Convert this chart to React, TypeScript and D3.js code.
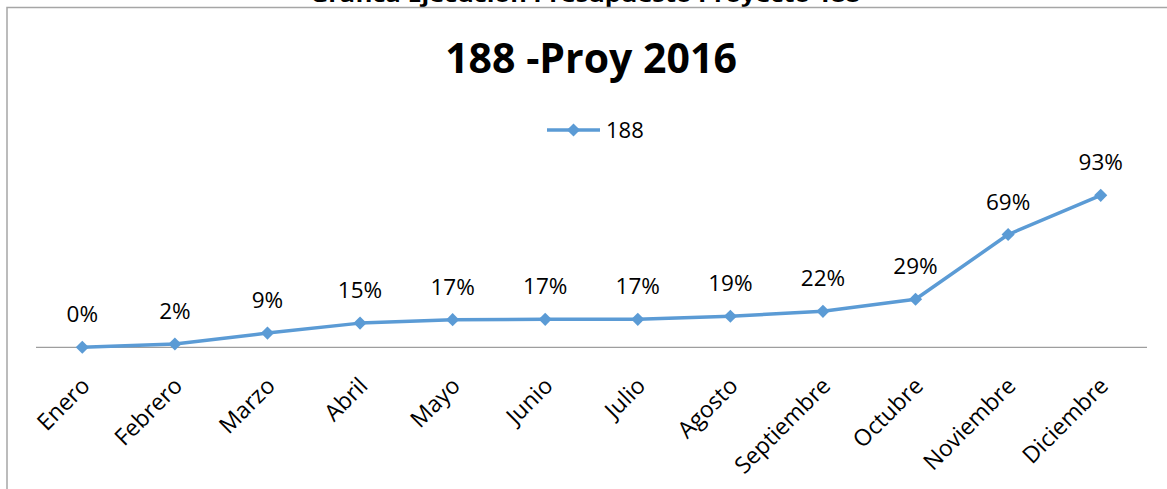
import React, { useEffect, useRef } from 'react';
import * as d3 from 'd3';

const months = [
  'Enero', 'Febrero', 'Marzo', 'Abril', 'Mayo', 'Junio',
  'Julio', 'Agosto', 'Septiembre', 'Octubre', 'Noviembre', 'Diciembre',
];
const executed = [0, 0.02, 0.087, 0.148, 0.169, 0.171, 0.171, 0.19, 0.22, 0.294, 0.69, 0.93];
const seriesName = '188';
const chartTitle = '188 -Proy 2016';
const sheetTitle = 'Gráfica Ejecución Presupuesto Proyecto 188';

const W = 1167;
const H = 489;
const BLUE = '#5B9BD5';
const FONT = '"Open Sans", "DejaVu Sans", sans-serif';

const App: React.FC = () => {
  const svgRef = useRef<SVGSVGElement>(null);

  useEffect(() => {
    if (!svgRef.current) return;
    const svg = d3.select(svgRef.current);
    svg.selectAll('*').remove();

    // sheet title above the frame, cut off by the top edge as in the source
    svg.append('text')
      .attr('x', 310)
      .attr('y', 1.5)
      .attr('textLength', 550)
      .attr('lengthAdjust', 'spacingAndGlyphs')
      .attr('font-family', FONT)
      .attr('font-weight', 700)
      .attr('font-size', 21)
      .attr('fill', '#000')
      .text(sheetTitle);

    // frame
    svg.append('rect')
      .attr('x', 7)
      .attr('y', 7.5)
      .attr('width', W + 20)
      .attr('height', H + 20)
      .attr('fill', '#fff')
      .attr('stroke', '#a6a6a6')
      .attr('stroke-width', 1.5);

    const x = d3.scaleBand<string>()
      .domain(months)
      .range([36, 1147]);
    const y = d3.scaleLinear()
      .domain([0, 1])
      .range([347.3, 183.9]);
    const cx = (m: string) => (x(m) || 0) + x.bandwidth() / 2;

    // title
    svg.append('text')
      .attr('x', 591)
      .attr('y', 73)
      .attr('text-anchor', 'middle')
      .attr('font-family', FONT)
      .attr('font-weight', 700)
      .attr('font-size', 41)
      .attr('fill', '#000')
      .text(chartTitle);

    // legend
    const lg = svg.append('g').attr('transform', 'translate(547,130)');
    lg.append('line')
      .attr('x1', 0).attr('x2', 53)
      .attr('stroke', BLUE).attr('stroke-width', 3.5);
    lg.append('path')
      .attr('d', d3.symbol().type(d3.symbolDiamond2).size(110)()!)
      .attr('transform', 'translate(26.5,0)')
      .attr('fill', BLUE);
    lg.append('text')
      .attr('x', 59)
      .attr('y', 8)
      .attr('font-family', FONT)
      .attr('font-size', 22)
      .attr('fill', '#000')
      .text(seriesName);

    // x axis line
    svg.append('line')
      .attr('x1', 36).attr('x2', 1147)
      .attr('y1', y(0)).attr('y2', y(0))
      .attr('stroke', '#868686')
      .attr('stroke-width', 1);

    // category labels
    svg.append('g')
      .selectAll('text')
      .data(months)
      .join('text')
      .attr('transform', d => `translate(${cx(d) + 9},${y(0) + 40}) rotate(-45)`)
      .attr('text-anchor', 'end')
      .attr('font-family', FONT)
      .attr('font-size', 23)
      .attr('fill', '#000')
      .text(d => d);

    // series line
    const line = d3.line<number>()
      .x((_, i) => cx(months[i]))
      .y(d => y(d));
    svg.append('path')
      .datum(executed)
      .attr('d', line)
      .attr('fill', 'none')
      .attr('stroke', BLUE)
      .attr('stroke-width', 3.5)
      .attr('stroke-linejoin', 'round');

    // markers
    svg.append('g')
      .selectAll('path')
      .data(executed)
      .join('path')
      .attr('d', d3.symbol().type(d3.symbolDiamond2).size(110)()!)
      .attr('transform', (d, i) => `translate(${cx(months[i])},${y(d)})`)
      .attr('fill', BLUE);

    // data labels
    svg.append('g')
      .selectAll('text')
      .data(executed)
      .join('text')
      .attr('x', (_, i) => cx(months[i]))
      .attr('y', d => y(d) - 25)
      .attr('text-anchor', 'middle')
      .attr('font-family', FONT)
      .attr('font-size', 22.5)
      .attr('fill', '#000')
      .text(d => `${Math.round(d * 100)}%`);
  }, []);

  return (
    <svg
      ref={svgRef}
      width={W}
      height={H}
      style={{ position: 'fixed', left: 0, top: 0, background: '#fff' }}
    />
  );
};

export default App;
